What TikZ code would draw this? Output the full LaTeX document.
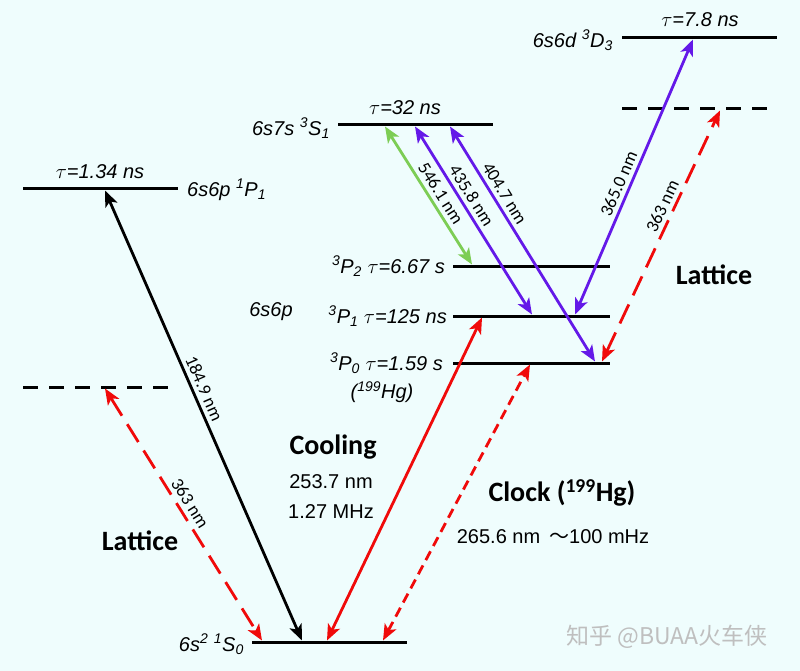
\documentclass[tikz,border=0pt]{standalone}
\usepackage{fontspec}
\setmainfont{Liberation Sans}
\newfontfamily\calib{Carlito}
\newfontfamily\cjk{Noto Sans CJK SC}
\usetikzlibrary{arrows.meta}

\definecolor{bgcyan}{RGB}{239,253,253}
\definecolor{laserpurple}{RGB}{100,25,232}
\definecolor{lasergreen}{RGB}{125,205,85}
\definecolor{laserred}{RGB}{240,10,10}

\tikzset{
  level/.style={line width=3pt},
  virtual/.style={line width=3pt,dash pattern=on 15pt off 11pt},
  trans/.style={line width=2.8pt,{Stealth[length=16pt,width=13pt,inset=4pt]}-{Stealth[length=16pt,width=13pt,inset=4pt]}},
  longdash/.style={dash pattern=on 21pt off 10pt},
  shortdash/.style={dash pattern=on 10pt off 6pt},
  term/.style={font=\fontsize{20}{24}\selectfont\itshape,inner sep=1pt},
  wl/.style={font=\calib\fontsize{18}{22}\selectfont,inner sep=4pt,sloped,above},
  bigword/.style={font=\calib\bfseries\fontsize{28}{30}\selectfont},
  plain/.style={font=\fontsize{20}{24}\selectfont}
}

\begin{document}
\begin{tikzpicture}[x=1pt,y=-1pt]
\fill[bgcyan] (0,0) rectangle (800,671);
\useasboundingbox (0,0) rectangle (800,671);

% levels
\draw[level] (23,189) -- (178,189);
\draw[virtual] (23,387) -- (178,387);
\draw[level] (252,642) -- (407,642);
\draw[level] (338,125) -- (493,125);
\draw[level] (622,38) -- (777,38);
\draw[virtual] (622,109) -- (777,109);
\draw[level] (453,266) -- (610,266);
\draw[level] (453,316) -- (610,316);
\draw[level] (453,363) -- (610,363);

% level names
\node[term] (tauP) at (100,172) {$\tau$=1.34 ns};
\node[term,anchor=west] (nameP) at (186,190) {6s6p \textsuperscript{1}P\textsubscript{1}};
\node[term,anchor=east] (nameS0) at (245,644) {6s\textsuperscript{2} \textsuperscript{1}S\textsubscript{0}};
\node[term] (tauS) at (405,108) {$\tau$=32 ns};
\node[term,anchor=east] (nameS) at (331,128) {6s7s \textsuperscript{3}S\textsubscript{1}};
\node[term] (tauD) at (700,20) {$\tau$=7.8 ns};
\node[term,anchor=east] (nameD) at (614,40) {6s6d \textsuperscript{3}D\textsubscript{3}};
\node[term,anchor=east] (nameP2) at (446,266) {\textsuperscript{3}P\textsubscript{2} $\tau$=6.67 s};
\node[term,anchor=east] (nameP1) at (448,316) {\textsuperscript{3}P\textsubscript{1} $\tau$=125 ns};
\node[term,anchor=east] (nameP0) at (444,363) {\textsuperscript{3}P\textsubscript{0} $\tau$=1.59 s};
\node[term] (iso) at (382,392) {(\textsuperscript{199}Hg)};
\node[term] (conf) at (271,312) {6s6p};

% ends of the transitions
\coordinate (sP) at (105,190.5);
\coordinate (sV) at (105,388.5);
\coordinate (gL) at (262,640.5);
\coordinate (gB) at (302,640.5);
\coordinate (gC) at (327,640.5);
\coordinate (gK) at (383,640.5);
\coordinate (tG) at (385,126.5);
\coordinate (tB) at (415,126.5);
\coordinate (tV) at (450,126.5);
\coordinate (p2G) at (472,264.5);
\coordinate (p1B) at (532,314.5);
\coordinate (p1U) at (575,314.5);
\coordinate (p1C) at (482,317.5);
\coordinate (p0V) at (595,361.5);
\coordinate (p0L) at (602,361.5);
\coordinate (p0K) at (530,364.5);
\coordinate (dU) at (693,39.5);
\coordinate (rV) at (720,110.5);

% transitions
\draw[trans] (sP) -- node[wl,pos=.45] (lamB) {184.9 nm} (gB);
\draw[trans,laserred,longdash] (sV) -- node[wl,pos=.48,black] (lamL) {363 nm} (gL);
\draw[trans,laserred] (gC) -- (p1C);
\draw[trans,laserred,shortdash] (gK) -- (p0K);
\draw[trans,lasergreen] (tG) -- node[wl,pos=.53,black] (lamG) {546.1 nm} (p2G);
\draw[trans,laserpurple] (tB) -- node[wl,pos=.40,black] (lamBl) {435.8 nm} (p1B);
\draw[trans,laserpurple] (tV) -- node[wl,pos=.31,black] (lamV) {404.7 nm} (p0V);
\draw[trans,laserpurple] (p1U) -- node[wl,pos=.46,black] (lamU) {365.0 nm} (dU);
\draw[trans,laserred,longdash] (p0L) -- node[wl,pos=.6,black] (lamR) {363 nm} (rV);

% headings
\node[bigword] (latL) at (140,541) {Lattice};
\node[bigword] (latR) at (714,275) {Lattice};
\node[bigword] (cool) at (333,447) {Cooling};
\node[plain] (coolA) at (331,482) {253.7 nm};
\node[plain] (coolB) at (331,512) {1.27 MHz};
\node[bigword] (clock) at (562,493) {Clock (\textsuperscript{199}Hg)};
\node[plain] (clockA) at (553,537) {265.6 nm \,{\cjk ～}100 mHz};
\node[font=\cjk\fontsize{23}{26}\selectfont,text=black!25] (mark) at (667,637) {知乎 @BUAA火车侠};
\end{tikzpicture}
\end{document}
